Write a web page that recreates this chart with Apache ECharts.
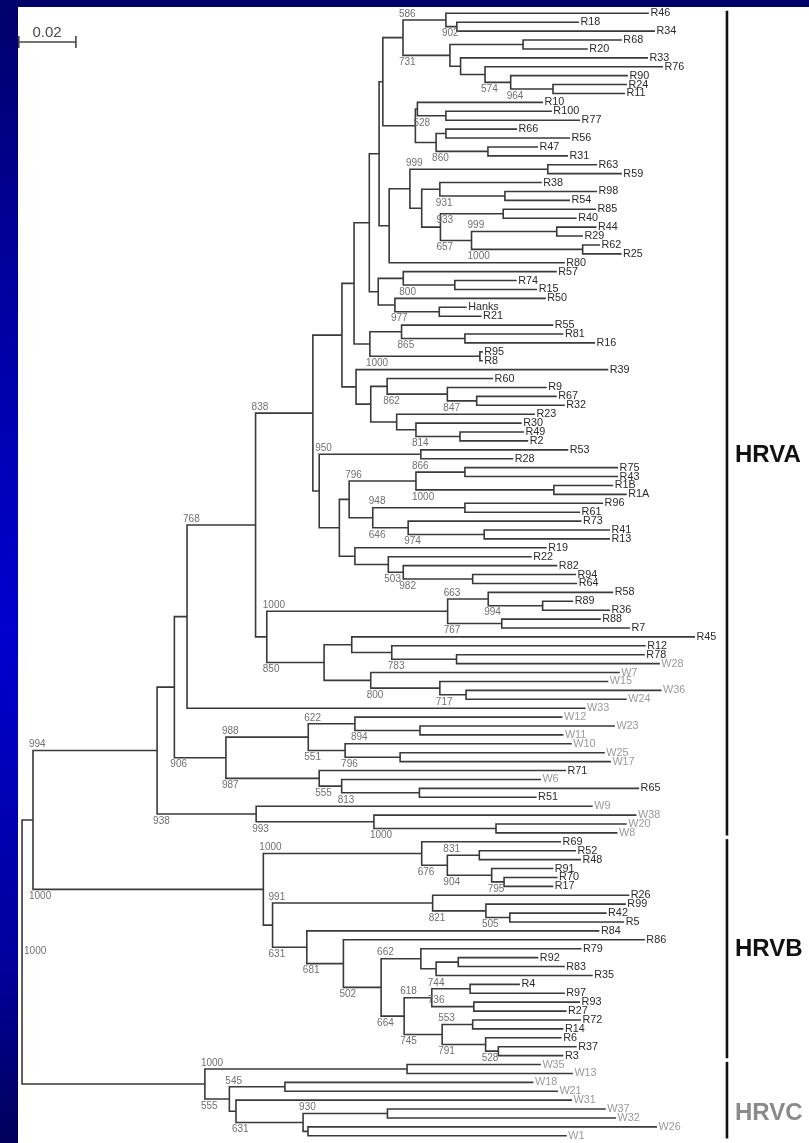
<!DOCTYPE html>
<html>
<head>
<meta charset="utf-8">
<script src="https://cdn.jsdelivr.net/npm/echarts/dist/echarts.min.js"></script>
<style>
html,body{margin:0;padding:0;background:#000080;}
#chart{width:809px;height:1143px;}
</style>
</head>
<body>
<div id="chart"></div>
<script>
// ================= DATA =================
// Newick-style clades. A number right after ')' is the bootstrap support (of 1000);
// the number after ':' is the node's distance from the root (substitutions per site).
const cladeR46 = "(R46:0.2177,(R18:0.1934,R34:0.2198)902:0.1510)586:0.1472";
const cladeR68 = "((R68:0.2083,R20:0.1965):0.1740,(R33:0.2174,(R76:0.2226,(R90:0.2104,(R24:0.2101,R11:0.2094)964:0.1844)574:0.1697):0.1608):0.1523)731:0.1486";
const cladeR10 = "((R10:0.1809,(R100:0.1840,R77:0.1938)528:0.1472):0.1373,((R66:0.1719,R56:0.1903):0.1472,(R47:0.1792,R31:0.1896)860:0.1618):0.1438):0.1366";
const cladeR63 = "(((R63:0.1997,R59:0.2083)999:0.1826,((R38:0.1805,(R98:0.1997,R54:0.1903)931:0.1677):0.1451,((R85:0.1993,R40:0.1926)933:0.1671,((R44:0.1995,R29:0.1948)999:0.1857,(R62:0.2007,R25:0.2082)1000:0.1947)657:0.1561):0.1453):0.1388):0.1347,R80:0.1885):0.1275";
const cladeR57 = "((R57:0.1857,(R74:0.1718,R15:0.1789)800:0.1503):0.1324,(R50:0.1819,(Hanks:0.1544,R21:0.1596)977:0.1449):0.1295):0.1237";
const cladeR55 = "((R55:0.1845,(R81:0.1880,R16:0.1990)865:0.1538):0.1318,(R95:0.1600,R8:0.1600)1000:0.1590):0.1208";
const cladeR39 = "(R39:0.2036,((R60:0.1636,(R9:0.1822,(R67:0.1857,R32:0.1885)847:0.1579)862:0.1477):0.1268,(R23:0.1781,(R30:0.1735,(R49:0.1743,R2:0.1758)814:0.1521):0.1368):0.1301):0.1211):0.1160";
const cladeR53 = "((R53:0.1897,R28:0.1706)950:0.1385,((((R75:0.2070,R43:0.2070)866:0.1538,(R1B:0.2053,R1A:0.2100)1000:0.1847)796:0.1368,((R96:0.2018,R61:0.1938)948:0.1538,(R73:0.1943,(R41:0.2042,R13:0.2042)974:0.1605)646:0.1341):0.1218):0.1136,(R19:0.1822,(R22:0.1770,(R82:0.1859,(R94:0.1924,R64:0.1928)982:0.1565)503:0.1324):0.1272):0.1156):0.1102):0.1032";
const cladeR58 = "(((R58:0.2053,(R89:0.1914,R36:0.2042)994:0.1808)663:0.1619,(R88:0.2010,R7:0.2111)767:0.1666)1000:0.1478,((R45:0.2337,(R12:0.2166,(R78:0.2163,W28:0.2215)783:0.1509):0.1284):0.1145,(W7:0.2076,(W15:0.2036,(W36:0.2221,W24:0.2100)717:0.1542)800:0.1451):0.1211)850:0.1049):0.0850";
const cladeW12 = "(((W12:0.1877,(W23:0.2059,W11:0.1880)894:0.1382)622:0.1156,(W10:0.1909,(W25:0.2024,W17:0.2045)796:0.1313)551:0.1122)988:0.0994,(R71:0.1889,(W6:0.1802,(R65:0.2143,R51:0.1787)813:0.1380)555:0.1110)987:0.1032)906:0.0708";
const cladeW9  = "(W9:0.1982,(W38:0.2134,(W20:0.2100,W8:0.2068)1000:0.1646)993:0.1222)938:0.0813";

const nodeA    = `(${cladeR46},${cladeR68}):0.1323`;
const nodeE    = `(${nodeA},${cladeR10}):0.1253`;
const nodeG    = `(${nodeE},${cladeR63}):0.1240`;
const nodeI    = `(${nodeG},${cladeR57}):0.1206`;
const nodeK    = `(${nodeI},${cladeR55}):0.1153`;
const nodeO    = `(${nodeK},${cladeR39}):0.1111`;
const nodeQ    = `(${nodeO},${cladeR53})838:0.1010`;
const node838  = `(${nodeQ},${cladeR58})768:0.0811`;
const node768  = `(${node838},W33:0.1957):0.0573`;
const nodeT    = `(${node768},${cladeW12}):0.0529`;
const treeHRVA = `(${nodeT},${cladeW9})994:0.0469`;

const treeHRVB = "((R69:0.1872,((R52:0.1924,R48:0.1941)831:0.1588,(R91:0.1845,(R70:0.1860,R17:0.1845)795:0.1674)904:0.1631)676:0.1477)1000:0.1388,((R26:0.2109,(R99:0.2097,(R42:0.2030,R5:0.2091)505:0.1694)821:0.1611)991:0.1426,(R84:0.2005,(R86:0.2163,((R79:0.1943,((R92:0.1793,R83:0.1885):0.1515,R35:0.1982):0.1438)662:0.1385,(((R4:0.1729,R97:0.1885)744:0.1556,(R93:0.1938,R27:0.1891)736:0.1569)618:0.1423,((R72:0.1941,R14:0.1880)553:0.1565,(R6:0.1874,(R37:0.1926,R3:0.1880)528:0.1654)791:0.1610)745:0.1459)664:0.1327)502:0.1247)681:0.1116)631:0.0989):0.0870)1000:0.0838";

const treeHRVC = "((W35:0.1802,W13:0.1913)1000:0.1337,((W18:0.1776,W21:0.1861)545:0.0913,(W31:0.1910,((W37:0.2027,W32:0.2063)930:0.1269,(W26:0.2205,W1:0.1892):0.0993)631:0.0976):0.0743)555:0.0720):0.0635";

const treeAll = `((${treeHRVA},${treeHRVB}):0.0038,${treeHRVC})1000:0`;

const cladeNames     = ['HRVA', 'HRVB', 'HRVC'];
const cladeFirstLeaf = ['R46', 'R69', 'W35'];
const cladeLastLeaf  = ['W8', 'R3', 'W1'];
const scaleBarLength = 0.02;
const scaleBarText   = '0.02';

// ================= TREE PARSING =================
function parseNewick(s) {
  let i = 0;
  function token() {
    let t = '';
    while (i < s.length && '(),:'.indexOf(s[i]) < 0) t += s[i++];
    return t.trim();
  }
  function node() {
    const n = { children: [] };
    if (s[i] === '(') {
      i++;
      n.children.push(node());
      while (s[i] === ',') { i++; n.children.push(node()); }
      i++;
      n.support = token();
    } else {
      n.name = token();
    }
    if (s[i] === ':') { i++; n.depth = parseFloat(token()); }
    return n;
  }
  return node();
}

const root = parseNewick(treeAll);
const leaves = [], internals = [];
(function walk(n, parent) {
  n.parent = parent;
  if (!n.children.length) { n.y = leaves.length; leaves.push(n); }
  else {
    n.children.forEach(c => walk(c, n));
    n.y = (n.children[0].y + n.children[n.children.length - 1].y) / 2;
    internals.push(n);
  }
})(root, null);

function firstLeaf(n) { while (n.children.length) n = n.children[0]; return n.name; }

// support labels: drawn at parent's x, above first-child branch / below other branches
const labelFlip = ['R85', 'R93'];
const supports = [];
internals.forEach(n => {
  if (!n.support) return;
  if (!n.parent) { supports.push({ x: n.depth, y: n.y, text: n.support, side: 'mid' }); return; }
  let side = n.parent.children[0] === n ? 'above' : 'below';
  if (labelFlip.indexOf(firstLeaf(n)) >= 0) side = side === 'above' ? 'below' : 'above';
  supports.push({ x: n.parent.depth, y: n.y, text: n.support, side });
});

const maxDepth = Math.max.apply(null, leaves.map(l => l.depth));
const leafIndex = {};
leaves.forEach(l => { leafIndex[l.name] = l.y; });

// ================= CHART =================
const LINE = '#3a3a3a';
const FONT = '"Liberation Sans", Arial, Helvetica, sans-serif';

const chart = echarts.init(document.getElementById('chart'), null, { renderer: 'canvas' });

const option = {
  animation: false,
  backgroundColor: {
    type: 'linear', x: 0, y: 0, x2: 0, y2: 1,
    colorStops: [
      { offset: 0, color: '#00006a' },
      { offset: 0.2, color: '#000096' },
      { offset: 0.55, color: '#0000cf' },
      { offset: 0.85, color: '#00009a' },
      { offset: 1, color: '#00005a' }
    ]
  },
  graphic: [{
    type: 'rect', z: -10, silent: true,
    shape: { x: 18, y: 7, width: 791, height: 1136 },
    style: { fill: '#ffffff' }
  }],
  grid: { left: 18.3, right: 0, top: 13.3, bottom: 7.2 },
  xAxis: { type: 'value', min: -0.0013, max: 0.2733, show: false },
  yAxis: { type: 'value', min: 0, max: 126, inverse: true, show: false },
  series: [
    {
      type: 'custom', name: 'branches', clip: false, silent: true,
      data: internals.map(n => [n.depth, n.y]),
      renderItem: function (params, api) {
        const n = internals[params.dataIndex];
        const f = n.children[0], l = n.children[n.children.length - 1];
        const pts = [
          api.coord([f.depth, f.y]),
          api.coord([n.depth, f.y]),
          api.coord([n.depth, l.y]),
          api.coord([l.depth, l.y])
        ];
        const kids = [{ type: 'polyline', shape: { points: pts },
          style: { stroke: LINE, lineWidth: 1.6, fill: null, lineJoin: 'miter' } }];
        for (let k = 1; k < n.children.length - 1; k++) {
          const c = n.children[k];
          kids.push({ type: 'polyline', shape: { points: [api.coord([n.depth, c.y]), api.coord([c.depth, c.y])] },
            style: { stroke: LINE, lineWidth: 1.6, fill: null } });
        }
        return { type: 'group', children: kids };
      }
    },
    {
      type: 'custom', name: 'leaves', clip: false, silent: true,
      data: leaves.map(l => [l.depth, l.y]),
      renderItem: function (params, api) {
        const l = leaves[params.dataIndex];
        const p = api.coord([l.depth, l.y]);
        const isW = l.name.charAt(0) === 'W';
        return { type: 'text', x: p[0] + 1.5, y: p[1],
          style: { text: l.name, font: '10.8px ' + FONT, fill: isW ? '#9a9a9a' : '#2a2a2a',
            align: 'left', verticalAlign: 'middle' } };
      }
    },
    {
      type: 'custom', name: 'supports', clip: false, silent: true,
      data: supports.map(s => [s.x, s.y]),
      renderItem: function (params, api) {
        const s = supports[params.dataIndex];
        const p = api.coord([s.x, s.y]);
        let x = p[0] - 4, y = p[1];
        if (s.side === 'above') y -= 6;
        else if (s.side === 'below') y += 7;
        else { x = p[0] + 2; y -= 1; }
        return { type: 'text', x: x, y: y,
          style: { text: s.text, font: '10px ' + FONT, fill: '#707070',
            align: 'left', verticalAlign: 'middle' } };
      }
    },
    {
      type: 'custom', name: 'scalebar', clip: false, silent: true,
      data: [[-0.0013, 0]],
      renderItem: function (params, api) {
        const x0 = api.coord([-0.0013, 0])[0];
        const x1 = api.coord([-0.0013 + scaleBarLength, 0])[0];
        const y = 42;
        const st = { stroke: '#444', lineWidth: 1.6, fill: null };
        return { type: 'group', children: [
          { type: 'line', shape: { x1: x0, y1: y, x2: x1, y2: y }, style: st },
          { type: 'line', shape: { x1: x0 + 0.5, y1: y - 6, x2: x0 + 0.5, y2: y + 6 }, style: st },
          { type: 'line', shape: { x1: x1, y1: y - 6, x2: x1, y2: y + 6 }, style: st },
          { type: 'text', x: (x0 + x1) / 2, y: 33,
            style: { text: scaleBarText, font: '15px ' + FONT, fill: '#4a4a4a', align: 'center', verticalAlign: 'middle' } }
        ] };
      }
    },
    {
      type: 'custom', name: 'clades', clip: false, silent: true,
      data: cladeNames.map((c, i) => [maxDepth, leafIndex[cladeFirstLeaf[i]]]),
      renderItem: function (params, api) {
        const i = params.dataIndex;
        const a = leafIndex[cladeFirstLeaf[i]] - 0.3;
        const b = leafIndex[cladeLastLeaf[i]] + 0.3;
        const bx = api.coord([maxDepth, a])[0] + 32;
        const y0 = api.coord([maxDepth, a])[1];
        const y1 = api.coord([maxDepth, b])[1];
        const labelShift = [32, 1, 13][i];
        return { type: 'group', children: [
          { type: 'line', shape: { x1: bx, y1: y0, x2: bx, y2: y1 }, style: { stroke: '#111', lineWidth: 2.6 } },
          { type: 'text', x: bx + 8, y: (y0 + y1) / 2 + labelShift,
            style: { text: cladeNames[i], font: 'bold 24px ' + FONT, fill: i === 2 ? '#8a8a8a' : '#111',
              align: 'left', verticalAlign: 'middle' } }
        ] };
      }
    }
  ]
};

chart.setOption(option);
</script>
</body>
</html>
